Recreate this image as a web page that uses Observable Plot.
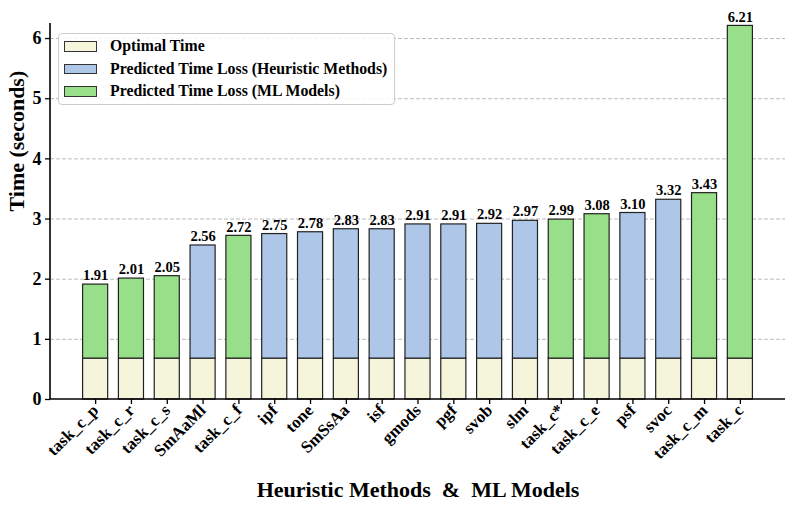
<!DOCTYPE html>
<html><head><meta charset="utf-8">
<script src="https://cdn.jsdelivr.net/npm/d3@7"></script>
<script src="https://cdn.jsdelivr.net/npm/@observablehq/plot@0.6"></script>
<style>
body{margin:0;background:#fff;}
#wrap{position:relative;width:792px;height:511px;font-family:"Liberation Serif","Times New Roman",serif;font-weight:bold;}
#legend{position:absolute;left:58px;top:33px;width:337px;height:72px;border:1px solid #ccc;border-radius:4px;background:rgba(255,255,255,0.85);box-sizing:border-box;padding:1px 0 0 5px;}
.row{display:flex;align-items:center;height:22.5px;font-size:15.8px;color:#000;white-space:nowrap;}
.sw{width:33px;height:10.5px;border:1.3px solid #333;margin-right:13px;box-sizing:border-box;flex:none;}
</style></head>
<body><div id="wrap"></div>
<script>
const names = ["task_c_p","task_c_r","task_c_s","SmAaMl","task_c_f","ipf","tone","SmSsAa","isf","gmods","pgf","svob","slm","task_c*","task_c_e","psf","svoc","task_c_m","task_c"];
const totals = [1.91,2.01,2.05,2.56,2.72,2.75,2.78,2.83,2.83,2.91,2.91,2.92,2.97,2.99,3.08,3.10,3.32,3.43,6.21];
const kinds = ["ML","ML","ML","H","ML","H","H","H","H","H","H","H","H","ML","ML","H","H","ML","ML"];
const optimal = 0.68;
const yTicks = [0,1,2,3,4,5,6];
const seriesNames = ["Optimal Time","Predicted Time Loss (Heuristic Methods)","Predicted Time Loss (ML Models)"];
const seriesColors = ["#f5f5dc","#aec7e8","#98df8a"];

const rows = [];
names.forEach((n,i)=>{
  rows.push({name:n, series:seriesNames[0], y1:0, y2:optimal});
  rows.push({name:n, series: kinds[i]==="H"?seriesNames[1]:seriesNames[2], y1:optimal, y2:totals[i]});
});
const labels = names.map((n,i)=>({name:n, total:totals[i]}));

const axisLines = (index, scales, values, dims) => {
  const g = d3.create("svg:g");
  const x0 = dims.marginLeft, x1 = dims.width - dims.marginRight;
  const yb = dims.height - dims.marginBottom, yt = dims.marginTop;
  g.append("line").attr("x1",x0).attr("x2",x0).attr("y1",yt).attr("y2",yb).attr("stroke","#000").attr("stroke-width",1.6);
  g.append("line").attr("x1",x0).attr("x2",x1).attr("y1",yb).attr("y2",yb).attr("stroke","#000").attr("stroke-width",1.6);
  return g.node();
};

const chart = Plot.plot({
  width: 792, height: 511,
  marginLeft: 50, marginRight: 7, marginTop: 23, marginBottom: 112,
  style: {fontFamily: '"Liberation Serif","Times New Roman",serif', fontWeight: "bold", background: "#fff", color: "#000"},
  x: {domain: names, paddingInner: 0.3, paddingOuter: 0.91, round: false, label: null},
  y: {domain: [0, 6.25], label: null},
  color: {domain: seriesNames, range: seriesColors},
  marks: [
    Plot.gridY(yTicks.filter(d=>d>0), {stroke: "#aaa", strokeOpacity: 1, strokeDasharray: "4,2", strokeWidth: 0.8}),
    Plot.barY(rows, {x: "name", y1: "y1", y2: "y2", fill: "series", stroke: "#222", strokeWidth: 1.2}),
    Plot.text(labels, {x: "name", y: "total", text: d => d.total.toFixed(2), dy: -9, fontSize: 14.5, fontWeight: "bold", fill: "#000"}),
    Plot.axisY(yTicks, {tickSize: 5, tickPadding: 4, fontSize: 18, label: null, tickFormat: d => String(d), strokeWidth: 1.3}),
    Plot.axisX({tickSize: 5, tickPadding: 3, fontSize: 17, tickRotate: -45, label: null, strokeWidth: 1.3}),
    axisLines,
    Plot.text(["Time (seconds)"], {frameAnchor: "left", dx: -34, rotate: -90, fontSize: 22, fontWeight: "bold", fill: "#000"}),
    Plot.text(["Heuristic Methods  &  ML Models"], {frameAnchor: "bottom", dy: 97, fontSize: 22, fontWeight: "bold", fill: "#000"})
  ]
});
const wrap = document.getElementById("wrap");
wrap.appendChild(chart);
const leg = document.createElement("div");
leg.id = "legend";
seriesNames.forEach((s,i)=>{
  const r = document.createElement("div"); r.className="row";
  const sw = document.createElement("div"); sw.className="sw"; sw.style.background = seriesColors[i];
  const t = document.createElement("span"); t.textContent = s;
  r.appendChild(sw); r.appendChild(t); leg.appendChild(r);
});
wrap.appendChild(leg);
</script></body></html>
